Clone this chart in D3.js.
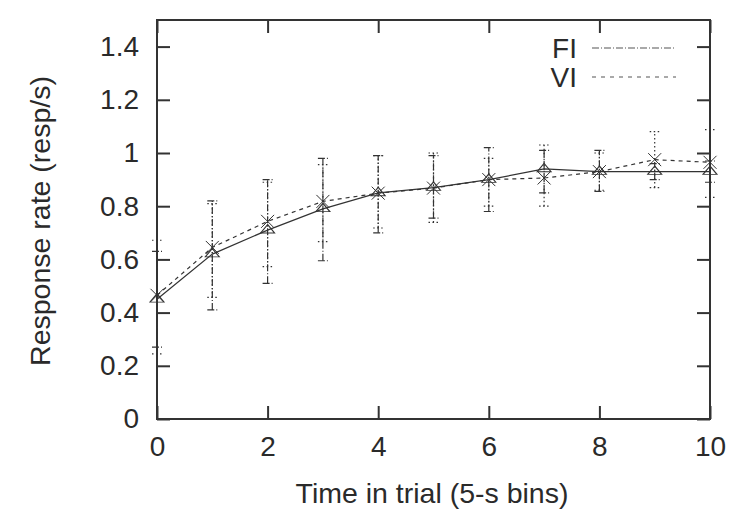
<!DOCTYPE html>
<html>
<head>
<meta charset="utf-8">
<script src="https://cdn.jsdelivr.net/npm/d3@7"></script>
<style>
html,body{margin:0;padding:0;background:#fff;}
text{font-family:"Liberation Sans",Arial,Helvetica,sans-serif;fill:#2a2a2a;}
</style>
</head>
<body>
<svg id="chart" width="750" height="524"></svg>
<script>
// ---- data ----
const bins = [0,1,2,3,4,5,6,7,8,9,10];
const fiMean = [0.45,0.62,0.71,0.79,0.85,0.87,0.90,0.94,0.93,0.93,0.93];
const fiLow  = [0.27,0.41,0.51,0.595,0.70,0.755,0.78,0.85,0.856,0.90,0.89];
const fiHigh = [0.63,0.82,0.90,0.98,0.99,0.99,1.02,1.01,1.01,0.96,0.97];
const viMean = [0.465,0.645,0.743,0.818,0.849,0.868,0.90,0.906,0.93,0.975,0.965];
const viLow  = [0.245,0.457,0.573,0.667,0.718,0.739,0.80,0.80,0.86,0.87,0.833];
const viHigh = [0.672,0.81,0.89,0.956,0.99,1.0,0.98,1.03,1.0,1.08,1.088];
const xTicks = [0,2,4,6,8,10];
const yTicks = [0,0.2,0.4,0.6,0.8,1,1.2,1.4];
const yTickLabels = ["0","0.2","0.4","0.6","0.8","1","1.2","1.4"];
const seriesNames = ["FI","VI"];

// ---- layout ----
const svg = d3.select("#chart");
const L = 157, R = 710, T = 20, B = 419;
const x = d3.scaleLinear().domain([0,10]).range([L,R]);
const y = d3.scaleLinear().domain([0,1.5]).range([B,T]);
const ink = "#333";

// frame
svg.append("rect").attr("x",L).attr("y",T).attr("width",R-L).attr("height",B-T)
  .attr("fill","none").attr("stroke",ink).attr("stroke-width",2);

const fs = 28, fsT = 28.5;
function styleAxis(g){
  g.select(".domain").remove();
  g.selectAll(".tick line").attr("stroke",ink).attr("stroke-width",2);
  g.selectAll(".tick text").attr("font-size",fs).attr("fill","#2a2a2a")
    .attr("font-family","Liberation Sans, Arial, sans-serif");
}
svg.append("g").attr("transform",`translate(0,${B})`)
  .call(d3.axisBottom(x).tickValues(xTicks).tickSize(-13).tickPadding(17).tickFormat(d3.format("d")))
  .call(styleAxis);
svg.append("g").attr("transform",`translate(0,${T})`)
  .call(d3.axisTop(x).tickValues(xTicks).tickSize(-13).tickFormat(""))
  .call(styleAxis);
svg.append("g").attr("transform",`translate(${L},0)`)
  .call(d3.axisLeft(y).tickValues(yTicks).tickSize(-13).tickPadding(18).tickFormat((d,i)=>yTickLabels[i]))
  .call(styleAxis);
svg.append("g").attr("transform",`translate(${R},0)`)
  .call(d3.axisRight(y).tickValues(yTicks).tickSize(-13).tickFormat(""))
  .call(styleAxis);

// axis titles
svg.append("text").attr("x",432).attr("y",503).attr("text-anchor","middle")
  .attr("font-size",fsT).text("Time in trial (5-s bins)");
svg.append("text").attr("transform",`translate(50,221) rotate(-90)`).attr("text-anchor","middle")
  .attr("font-size",fsT).text("Response rate (resp/s)");

// error bars
const capW = 5;
function errorBars(lo, hi, dash, cls){
  const g = svg.append("g").attr("class",cls).attr("stroke",ink).attr("stroke-width",1.2).attr("fill","none");
  bins.forEach((b,i)=>{
    g.append("line").attr("x1",x(b)).attr("x2",x(b)).attr("y1",y(lo[i])).attr("y2",y(hi[i]))
      .attr("stroke-dasharray",dash);
    [lo[i],hi[i]].forEach(v=>{
      g.append("line").attr("x1",x(b)-capW).attr("x2",x(b)+capW).attr("y1",y(v)).attr("y2",y(v))
        .attr("stroke-dasharray",dash);
    });
  });
}
errorBars(fiLow, fiHigh, "7,2,1,2", "fi-err");
errorBars(viLow, viHigh, "1.5,2.5", "vi-err");

// lines
const line = d3.line().x((d,i)=>x(bins[i])).y(d=>y(d));
svg.append("path").datum(fiMean).attr("d",line).attr("fill","none").attr("stroke",ink).attr("stroke-width",1.2);
svg.append("path").datum(viMean).attr("d",line).attr("fill","none").attr("stroke",ink).attr("stroke-width",1.2)
  .attr("stroke-dasharray","4,4");

// markers
const triSym = d3.symbol().type(d3.symbolTriangle).size(50);
svg.append("g").selectAll("path").data(fiMean).join("path")
  .attr("transform",(d,i)=>`translate(${x(bins[i])},${y(d)}) scale(1.3,0.9)`)
  .attr("d",triSym()).attr("fill","none").attr("stroke",ink).attr("stroke-width",1);
const xs = 6.5;
svg.append("g").selectAll("path").data(viMean).join("path")
  .attr("d",(d,i)=>{const cx=x(bins[i]), cy=y(d);
    return `M${cx-xs},${cy-xs}L${cx+xs},${cy+xs}M${cx-xs},${cy+xs}L${cx+xs},${cy-xs}`;})
  .attr("fill","none").attr("stroke",ink).attr("stroke-width",1);

// legend
const leg = svg.append("g");
const legY = [48,77];
const legDash = ["7,2,1,2","4,5"];
seriesNames.forEach((n,i)=>{
  leg.append("text").attr("x",577).attr("y",legY[i]+10).attr("text-anchor","end")
    .attr("font-size",fs).text(n);
  leg.append("line").attr("x1",592).attr("x2",676).attr("y1",legY[i]).attr("y2",legY[i])
    .attr("stroke","#555").attr("stroke-width",1.2).attr("stroke-dasharray",legDash[i]);
});
</script>
</body>
</html>
